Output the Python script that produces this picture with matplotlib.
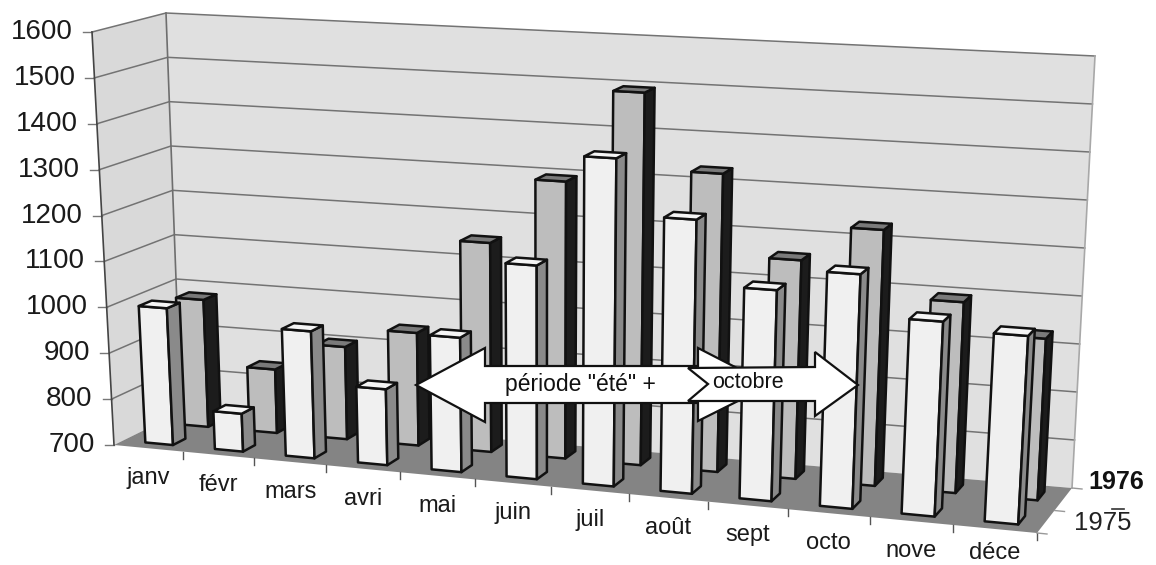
import matplotlib
matplotlib.use("Agg")
import matplotlib.pyplot as plt
from matplotlib.patches import Polygon

plt.rcParams["font.family"] = ["Liberation Sans", "DejaVu Sans"]

months = ["janv", "févr", "mars", "avri", "mai", "juin", "juil", "août", "sept", "octo", "nove", "déce"]
values_1976 = [998, 782, 973, 862, 985, 1150, 1386, 1269, 1135, 1180, 1096, 1080]
values_1975 = [982, 840, 902, 945, 1152, 1295, 1495, 1332, 1160, 1235, 1096, 1033]
y_ticks = [700, 800, 900, 1000, 1100, 1200, 1300, 1400, 1500, 1600]

Z_MIN, Z_MAX = 700, 1600

# pixel position of the 8 corners of the 3d box: (u, v, z)
corners = {
    (0, 0, 0): (114, 445), (1, 0, 0): (1037, 533),
    (0, 1, 0): (181, 412), (1, 1, 0): (1072, 488),
    (0, 0, 1): (92, 32), (1, 0, 1): (1062, 83),
    (0, 1, 1): (166, 13), (1, 1, 1): (1095, 56),
}


def project(month, depth, value):
    u = month / 12
    u = 0.894 * u + 0.106 * u * u  # months get wider to the right
    z = (value - Z_MIN) / (Z_MAX - Z_MIN)
    x, y = 0, 0
    for (cu, cv, cz), (px, py) in corners.items():
        w = (u if cu else 1 - u) * (depth if cv else 1 - depth) * (z if cz else 1 - z)
        x += w * px
        y += w * py
    return x, y


fig = plt.figure(figsize=(11.56, 5.65), dpi=100)
ax = fig.add_axes([0, 0, 1, 1])
ax.set_xlim(0, 1156)
ax.set_ylim(565, 0)
ax.axis("off")


def face(points, color, edge="none", lw=0, z=2):
    ax.add_patch(Polygon(points, closed=True, facecolor=color, edgecolor=edge, linewidth=lw,
                         joinstyle="round", zorder=z))


# walls and floor
face([project(0, 0, Z_MIN), project(0, 1, Z_MIN), project(0, 1, Z_MAX), project(0, 0, Z_MAX)], "#d9d9d9")
face([project(0, 1, Z_MIN), project(12, 1, Z_MIN), project(12, 1, Z_MAX), project(0, 1, Z_MAX)], "#e0e0e0")
face([project(0, 0, Z_MIN), project(12, 0, Z_MIN), project(12, 1, Z_MIN), project(0, 1, Z_MIN)], "#848484")

# grid on the walls
for t in y_ticks:
    a, b, c = project(0, 0, t), project(0, 1, t), project(12, 1, t)
    if t > Z_MIN:
        ax.plot([a[0], b[0], c[0]], [a[1], b[1], c[1]], color="#737373", lw=1.1, zorder=3)
    ax.plot([a[0] - 9, a[0]], [a[1], a[1]], color="#777777", lw=1, zorder=3)
    ax.text(a[0] - 19, a[1], str(t), ha="right", va="center", fontsize=20, color="#1a1a1a")

# wall edges
for p, q, col in [((0, 0, Z_MIN), (0, 0, Z_MAX), "#444444"), ((0, 1, Z_MIN), (0, 1, Z_MAX), "#6e6e6e"),
                  ((12, 1, Z_MIN), (12, 1, Z_MAX), "#a8a8a8")]:
    a, b = project(*p), project(*q)
    ax.plot([a[0], b[0]], [a[1], b[1]], color=col, lw=1.2, zorder=3)


def bar(month, v0, v1, value, front, top, side):
    m0, m1 = month + 0.32, month + 0.72
    face([project(m0, v0, Z_MIN), project(m1, v0, Z_MIN), project(m1, v0, value), project(m0, v0, value)],
         front, "#111111", 1.8, 4)
    face([project(m1, v0, Z_MIN), project(m1, v1, Z_MIN), project(m1, v1, value), project(m1, v0, value)],
         side, "#111111", 1.8, 4)
    face([project(m0, v0, value), project(m1, v0, value), project(m1, v1, value), project(m0, v1, value)],
         top, "#111111", 1.8, 4)


for i, val in enumerate(values_1975):
    bar(i, 0.68, 0.87, val, "#bdbdbd", "#7a7a7a", "#1c1c1c")
for i, val in enumerate(values_1976):
    bar(i, 0.14, 0.33, val, "#f0f0f0", "#f5f5f5", "#8a8a8a")

# month ticks and labels
for i, name in enumerate(months):
    x, y = project(i, 0, Z_MIN)
    if i > 0:
        ax.plot([x, x], [y, y + 7], color="#555555", lw=1, zorder=3)
    x, y = project(i + 0.5, 0, Z_MIN)
    ax.text(x, min(y + 36, 559), name, ha="center", va="baseline", fontsize=17, color="#1a1a1a")
x, y = project(12, 0, Z_MIN)
ax.plot([x, x], [y, y + 7], color="#555555", lw=1, zorder=3)

# series axis
for d in [0, 0.5, 1]:
    x, y = project(12, d, Z_MIN)
    ax.plot([x, x + 10], [y, y + 1], color="#999999", lw=1, zorder=3)
ax.text(1116, 482, "1976", ha="center", va="center", fontsize=18, fontweight="bold", color="#111111")
ax.text(1103, 523, "1975", ha="center", va="center", fontsize=18.5, color="#222222")
ax.plot([1112, 1124], [509, 509], color="#333333", lw=1.2)

# arrows
arrow_one = [(416, 385), (485, 348), (485, 366), (698, 366), (698, 348), (770, 385), (698, 421), (698, 403),
             (485, 403), (485, 422)]
arrow_two = [(688, 368), (815, 367), (815, 352), (858, 385), (815, 416), (815, 401), (688, 401), (708, 384)]
ax.add_patch(Polygon(arrow_one, closed=True, facecolor="white", edgecolor="#111111", linewidth=1.6, zorder=6))
ax.add_patch(Polygon(arrow_two, closed=True, facecolor="white", edgecolor="#111111", linewidth=1.6, zorder=7))
ax.text(580, 385, "période \"été\" +", ha="center", va="center", fontsize=16.5, color="#111111", zorder=8)
ax.text(748, 382, "octobre", ha="center", va="center", fontsize=15.5, color="#111111", zorder=8)

fig.savefig("out.png", dpi=100)
